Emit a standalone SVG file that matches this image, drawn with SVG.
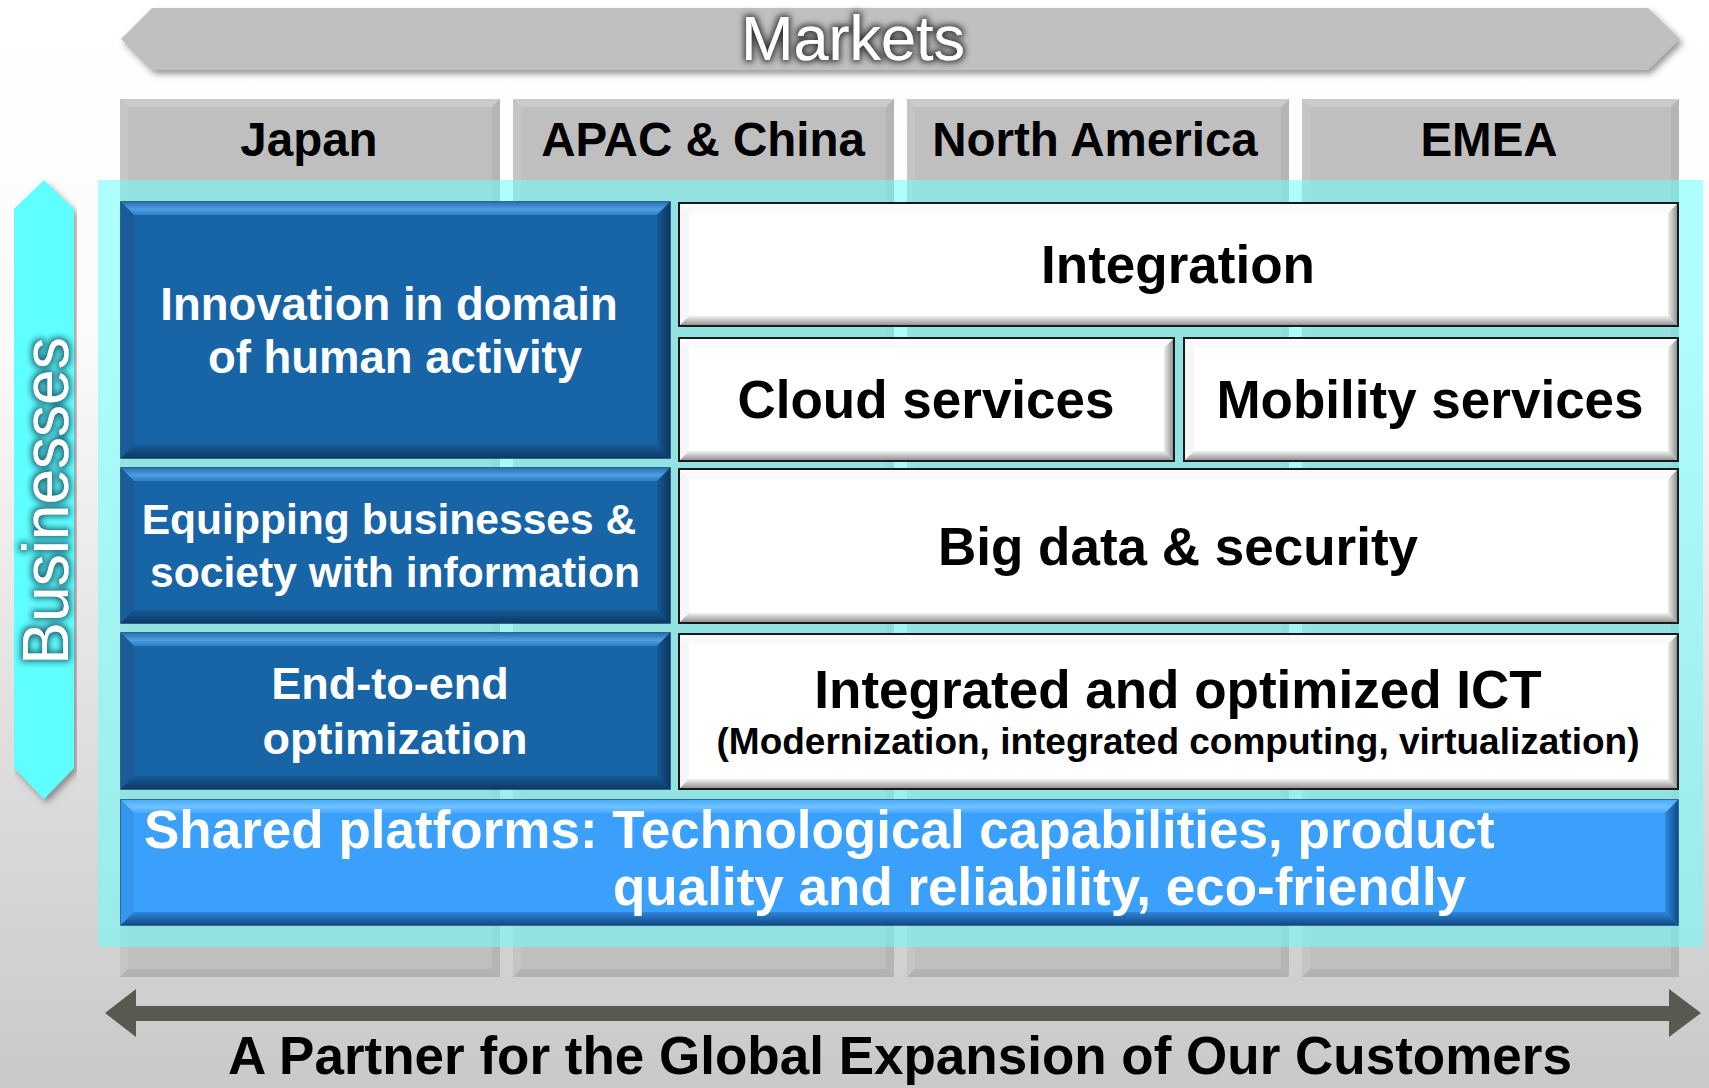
<svg xmlns="http://www.w3.org/2000/svg" width="1709" height="1088" viewBox="0 0 1709 1088">
<defs>
<linearGradient id="bg" x1="0" y1="0" x2="0" y2="1">
<stop offset="0" stop-color="#FFFFFF"/><stop offset="0.3" stop-color="#FBFBFB"/><stop offset="0.7" stop-color="#DDDDDD"/><stop offset="1" stop-color="#C9C9C9"/>
</linearGradient>
<linearGradient id="gV" x1="0" y1="0" x2="0" y2="1"><stop offset="0" stop-color="#2A70B2"/><stop offset="0.55" stop-color="#4D9EE3"/><stop offset="1" stop-color="#2F7DC4"/></linearGradient>
<linearGradient id="gVd" x1="0" y1="0" x2="0" y2="1"><stop offset="0" stop-color="#165A98"/><stop offset="1" stop-color="#0C3A66"/></linearGradient>
<linearGradient id="gHd" x1="0" y1="0" x2="1" y2="0"><stop offset="0" stop-color="#165A98"/><stop offset="1" stop-color="#0B3560"/></linearGradient>
<linearGradient id="sV" x1="0" y1="0" x2="0" y2="1"><stop offset="0" stop-color="#4AACFF"/><stop offset="0.55" stop-color="#70C2FF"/><stop offset="1" stop-color="#48A8FA"/></linearGradient>
<linearGradient id="sVd" x1="0" y1="0" x2="0" y2="1"><stop offset="0" stop-color="#2E86DA"/><stop offset="1" stop-color="#114A86"/></linearGradient>
<linearGradient id="sHd" x1="0" y1="0" x2="1" y2="0"><stop offset="0" stop-color="#2F8AE0"/><stop offset="1" stop-color="#104C8C"/></linearGradient>
<linearGradient id="wVd" x1="0" y1="0" x2="0" y2="1"><stop offset="0" stop-color="#F2F2F2"/><stop offset="1" stop-color="#8A8A8A"/></linearGradient>
<linearGradient id="wHd" x1="0" y1="0" x2="1" y2="0"><stop offset="0" stop-color="#EEEEEE"/><stop offset="1" stop-color="#888888"/></linearGradient>
<filter id="shadow" x="-5%" y="-20%" width="110%" height="160%">
<feGaussianBlur in="SourceAlpha" stdDeviation="3"/><feOffset dx="3" dy="4" result="b"/>
<feFlood flood-color="#555555" flood-opacity="0.6"/><feComposite in2="b" operator="in"/>
<feMerge><feMergeNode/><feMergeNode in="SourceGraphic"/></feMerge>
</filter>
<filter id="glowGray" x="-20%" y="-40%" width="140%" height="180%">
<feMorphology in="SourceAlpha" operator="dilate" radius="2"/><feGaussianBlur stdDeviation="3" result="b"/>
<feFlood flood-color="#3A3A3A"/><feComposite in2="b" operator="in"/>
<feMerge><feMergeNode/><feMergeNode in="SourceGraphic"/></feMerge>
</filter>
<filter id="glowTeal" x="-40%" y="-20%" width="180%" height="140%">
<feMorphology in="SourceAlpha" operator="dilate" radius="2"/><feGaussianBlur stdDeviation="3" result="b"/>
<feFlood flood-color="#1C6878"/><feComposite in2="b" operator="in"/>
<feMerge><feMergeNode/><feMergeNode in="SourceGraphic"/></feMerge>
</filter>
<style>
text{font-family:"Liberation Sans",Arial,sans-serif;}
.lbl{font-weight:bold;font-size:47.5px;fill:#000;text-anchor:middle;}
.wt{font-weight:bold;fill:#FFFFFF;text-anchor:middle;}
.bk{font-weight:bold;fill:#000000;text-anchor:middle;font-size:53px;}
.sub{font-size:37px;}
.gf{fill:#BFBFBF;} .gt{fill:#CBCBCB;} .gl{fill:#C5C5C5;} .gr{fill:#B5B5B5;} .gb{fill:#B2B2B2;}
.bf{fill:#1764A6;stroke:#0E3A63;stroke-width:1.5;} .bt{fill:url(#gV);} .bl{fill:#1A5C9A;} .br{fill:url(#gHd);} .bb{fill:url(#gVd);}
.sf{fill:#3BA0FC;stroke:#124575;stroke-width:1.5;} .st{fill:url(#sV);} .sl{fill:#3496EE;} .sr{fill:url(#sHd);} .sb{fill:url(#sVd);}
.wf{fill:#FFFFFF;} .wtp{fill:#FAFAFA;} .wl{fill:#F6F6F6;} .wr{fill:url(#wHd);} .wb{fill:url(#wVd);}
.wo{fill:none;stroke:#1A1A1A;stroke-width:2;}
</style>
</defs>
<rect x="0" y="0" width="1709" height="1088" fill="url(#bg)"/>

<g id="markets">
<polygon points="121,39 152,8 1648,8 1680,39 1648,70 152,70" fill="#C0C0C0" filter="url(#shadow)"/>
<text x="853" y="60" font-size="63" fill="#FFFFFF" text-anchor="middle" filter="url(#glowGray)">Markets</text>
</g>

<g id="col-japan">
<rect class="gf" x="120" y="99" width="380" height="878"/>
<polygon class="gt" points="120,99 500,99 492,107 128,107"/><polygon class="gl" points="120,99 128,107 128,969 120,977"/><polygon class="gr" points="500,99 500,977 492,969 492,107"/><polygon class="gb" points="120,977 128,969 492,969 500,977"/>
<text class="lbl" x="309" y="156">Japan</text>
</g>
<g id="col-apac">
<rect class="gf" x="513" y="99" width="381" height="878"/>
<polygon class="gt" points="513,99 894,99 886,107 521,107"/><polygon class="gl" points="513,99 521,107 521,969 513,977"/><polygon class="gr" points="894,99 894,977 886,969 886,107"/><polygon class="gb" points="513,977 521,969 886,969 894,977"/>
<text class="lbl" x="703" y="156">APAC &amp; China</text>
</g>
<g id="col-na">
<rect class="gf" x="907" y="99" width="382" height="878"/>
<polygon class="gt" points="907,99 1289,99 1281,107 915,107"/><polygon class="gl" points="907,99 915,107 915,969 907,977"/><polygon class="gr" points="1289,99 1289,977 1281,969 1281,107"/><polygon class="gb" points="907,977 915,969 1281,969 1289,977"/>
<text class="lbl" x="1095" y="156">North America</text>
</g>
<g id="col-emea">
<rect class="gf" x="1302" y="99" width="377" height="878"/>
<polygon class="gt" points="1302,99 1679,99 1671,107 1310,107"/><polygon class="gl" points="1302,99 1310,107 1310,969 1302,977"/><polygon class="gr" points="1679,99 1679,977 1671,969 1671,107"/><polygon class="gb" points="1302,977 1310,969 1671,969 1679,977"/>
<text class="lbl" x="1489" y="156">EMEA</text>
</g>

<rect id="businesses-area" x="98" y="180" width="1605" height="767" fill="#6DFFFF" opacity="0.54"/>

<g id="innovation">
<rect class="bf" x="121" y="202" width="549" height="256"/>
<polygon class="bt" points="121,202 670,202 657,215 134,215"/><polygon class="bl" points="121,202 134,215 134,445 121,458"/><polygon class="br" points="670,202 670,458 657,445 657,215"/><polygon class="bb" points="121,458 134,445 657,445 670,458"/>
<text class="wt" font-size="45.5"><tspan x="389" y="320">Innovation in domain</tspan><tspan x="395" y="373">of human activity</tspan></text>
</g>
<g id="equipping">
<rect class="bf" x="121" y="468" width="549" height="155"/>
<polygon class="bt" points="121,468 670,468 657,481 134,481"/><polygon class="bl" points="121,468 134,481 134,610 121,623"/><polygon class="br" points="670,468 670,623 657,610 657,481"/><polygon class="bb" points="121,623 134,610 657,610 670,623"/>
<text class="wt" font-size="42.6"><tspan x="389" y="534">Equipping businesses &amp;</tspan><tspan x="395" y="587">society with information</tspan></text>
</g>
<g id="end-to-end">
<rect class="bf" x="121" y="633" width="549" height="156"/>
<polygon class="bt" points="121,633 670,633 657,646 134,646"/><polygon class="bl" points="121,633 134,646 134,776 121,789"/><polygon class="br" points="670,633 670,789 657,776 657,646"/><polygon class="bb" points="121,789 134,776 657,776 670,789"/>
<text class="wt" font-size="45"><tspan x="390" y="699">End-to-end</tspan><tspan x="395" y="754">optimization</tspan></text>
</g>
<g id="shared-platforms">
<rect class="sf" x="121" y="800" width="1557" height="125"/>
<polygon class="st" points="121,800 1678,800 1665,813 134,813"/><polygon class="sl" points="121,800 134,813 134,912 121,925"/><polygon class="sr" points="1678,800 1678,925 1665,912 1665,813"/><polygon class="sb" points="121,925 134,912 1665,912 1678,925"/>
<text font-weight="bold" font-size="53" fill="#FFFFFF"><tspan x="144" y="848">Shared platforms: Technological capabilities, product</tspan><tspan x="613" y="905">quality and reliability, eco-friendly</tspan></text>
</g>

<g id="integration">
<rect class="wf" x="679" y="203" width="999" height="123"/>
<polygon class="wtp" points="679,203 1678,203 1668,213 689,213"/><polygon class="wl" points="679,203 689,213 689,316 679,326"/><polygon class="wr" points="1678,203 1678,326 1668,316 1668,213"/><polygon class="wb" points="679,326 689,316 1668,316 1678,326"/>
<rect class="wo" x="679" y="203" width="999" height="123"/>
<text class="bk" x="1178" y="283">Integration</text>
</g>
<g id="cloud">
<rect class="wf" x="679" y="338" width="495" height="123"/>
<polygon class="wtp" points="679,338 1174,338 1164,348 689,348"/><polygon class="wl" points="679,338 689,348 689,451 679,461"/><polygon class="wr" points="1174,338 1174,461 1164,451 1164,348"/><polygon class="wb" points="679,461 689,451 1164,451 1174,461"/>
<rect class="wo" x="679" y="338" width="495" height="123"/>
<text class="bk" x="926" y="418">Cloud services</text>
</g>
<g id="mobility">
<rect class="wf" x="1184" y="338" width="494" height="123"/>
<polygon class="wtp" points="1184,338 1678,338 1668,348 1194,348"/><polygon class="wl" points="1184,338 1194,348 1194,451 1184,461"/><polygon class="wr" points="1678,338 1678,461 1668,451 1668,348"/><polygon class="wb" points="1184,461 1194,451 1668,451 1678,461"/>
<rect class="wo" x="1184" y="338" width="494" height="123"/>
<text class="bk" x="1430" y="418">Mobility services</text>
</g>
<g id="bigdata">
<rect class="wf" x="679" y="469" width="999" height="154"/>
<polygon class="wtp" points="679,469 1678,469 1668,479 689,479"/><polygon class="wl" points="679,469 689,479 689,613 679,623"/><polygon class="wr" points="1678,469 1678,623 1668,613 1668,479"/><polygon class="wb" points="679,623 689,613 1668,613 1678,623"/>
<rect class="wo" x="679" y="469" width="999" height="154"/>
<text class="bk" x="1178" y="565">Big data &amp; security</text>
</g>
<g id="ict">
<rect class="wf" x="679" y="634" width="999" height="155"/>
<polygon class="wtp" points="679,634 1678,634 1668,644 689,644"/><polygon class="wl" points="679,634 689,644 689,779 679,789"/><polygon class="wr" points="1678,634 1678,789 1668,779 1668,644"/><polygon class="wb" points="679,789 689,779 1668,779 1678,789"/>
<rect class="wo" x="679" y="634" width="999" height="155"/>
<text class="bk" x="1178" y="708">Integrated and optimized ICT</text>
<text class="bk sub" x="1178" y="754">(Modernization, integrated computing, virtualization)</text>
</g>

<g id="businesses">
<polygon points="14,209 44,180 74,209 74,768 44,799 14,768" fill="#60FFFF" filter="url(#shadow)"/>
<text x="68" y="501" font-size="64" fill="#FFFFFF" text-anchor="middle" transform="rotate(-90 68 501)" filter="url(#glowTeal)">Businesses</text>
</g>

<g id="connectors">
<polygon points="105,1013 136,989 136,1006 1669,1006 1669,989 1701,1013 1669,1037 1669,1021 136,1021 136,1037" fill="#595950"/>
</g>
<g id="tagline">
<text x="900" y="1074" font-size="53" font-weight="bold" fill="#000000" text-anchor="middle">A Partner for the Global Expansion of Our Customers</text>
</g>
</svg>
